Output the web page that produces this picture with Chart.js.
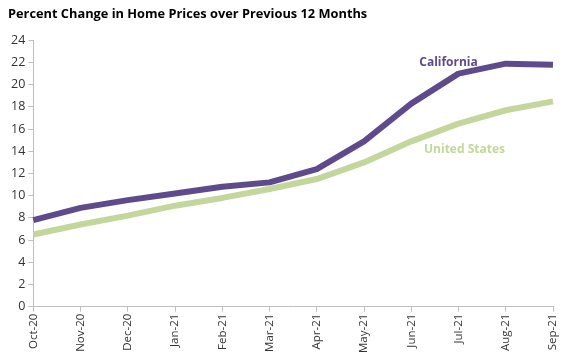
<!DOCTYPE html>
<html>
<head>
<meta charset="utf-8">
<script src="https://cdn.jsdelivr.net/npm/chart.js@4"></script>
<style>
  html, body { margin: 0; padding: 0; background: #fff; }
  #wrap { width: 565px; height: 360px; }
</style>
</head>
<body>
<div id="wrap"><canvas id="myChart"></canvas></div>
<script>
const months = ['Oct-20','Nov-20','Dec-20','Jan-21','Feb-21','Mar-21','Apr-21','May-21','Jun-21','Jul-21','Aug-21','Sep-21'];
const california = [7.8, 8.9, 9.6, 10.2, 10.8, 11.2, 12.4, 14.9, 18.3, 21.0, 21.9, 21.8];
const unitedStates = [6.5, 7.4, 8.2, 9.1, 9.8, 10.6, 11.5, 13.0, 14.9, 16.5, 17.7, 18.5];
const yTicks = [0, 2, 4, 6, 8, 10, 12, 14, 16, 18, 20, 22, 24];

const purple = '#5f4b8b';
const green = '#c3d69b';
const axisGray = '#bfbfbf';
const font = 'Open Sans';

// series names drawn next to the lines, like the original
const seriesLabels = {
  id: 'seriesLabels',
  afterDatasetsDraw(chart) {
    const c = chart.ctx;
    const x = chart.scales.x;
    const y = chart.scales.y;
    c.save();
    c.font = 'bold 12px "' + font + '"';
    c.textAlign = 'center';
    c.textBaseline = 'alphabetic';
    c.fillStyle = purple;
    c.fillText('California', x.getPixelForValue(9) - 10, y.getPixelForValue(california[9]) - 8);
    c.fillStyle = green;
    c.fillText('United States', x.getPixelForValue(9) + 6, y.getPixelForValue(unitedStates[9]) + 29);
    c.restore();
  }
};

new Chart(document.getElementById('myChart'), {
  type: 'line',
  data: {
    labels: months,
    datasets: [
      { label: 'California', data: california, borderColor: purple, borderWidth: 6, pointRadius: 0, tension: 0, borderJoinStyle: 'round' },
      { label: 'United States', data: unitedStates, borderColor: green, borderWidth: 6, pointRadius: 0, tension: 0, borderJoinStyle: 'round' }
    ]
  },
  options: {
    responsive: true,
    maintainAspectRatio: false,
    animation: false,
    layout: { padding: { left: 8, right: 0, top: 0, bottom: 5 } },
    plugins: {
      legend: { display: false },
      tooltip: { enabled: false },
      title: {
        display: true,
        text: 'Percent Change in Home Prices over Previous 12 Months',
        align: 'start',
        color: '#000',
        font: { family: font, size: 12.8, weight: 'bold' },
        padding: { top: 7, bottom: 18 }
      }
    },
    scales: {
      x: {
        offset: false,
        afterFit(scale) { scale.paddingRight = 12; },
        grid: { drawOnChartArea: false, drawTicks: true, tickLength: 5, color: axisGray },
        border: { color: axisGray, width: 1 },
        ticks: { color: '#333', font: { family: font, size: 11.5 }, maxRotation: 90, minRotation: 90, autoSkip: false, padding: 2 }
      },
      y: {
        min: 0,
        max: 24,
        afterBuildTicks(axis) { axis.ticks = yTicks.map(v => ({ value: v })); },
        grid: { drawOnChartArea: false, drawTicks: true, tickLength: 5, color: axisGray },
        border: { color: axisGray, width: 1 },
        ticks: { color: '#333', font: { family: font, size: 12.5 }, padding: 3 }
      }
    }
  },
  plugins: [seriesLabels]
});
</script>
</body>
</html>
